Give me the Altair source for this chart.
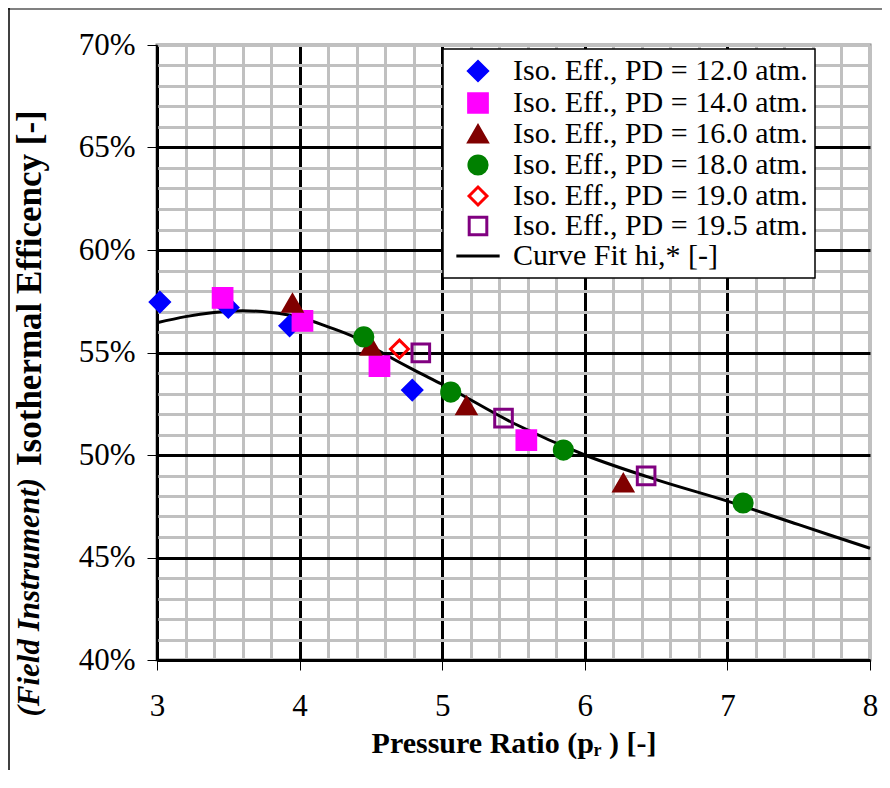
import altair as alt
import pandas as pd

# ---- data ----
series_names = [
    "Iso. Eff., PD = 12.0 atm.",
    "Iso. Eff., PD = 14.0 atm.",
    "Iso. Eff., PD = 16.0 atm.",
    "Iso. Eff., PD = 18.0 atm.",
    "Iso. Eff., PD = 19.0 atm.",
    "Iso. Eff., PD = 19.5 atm.",
    "Curve Fit hi,* [-]",
]

pr_12 = [3.02, 3.50, 3.93, 4.79]
eff_12 = [57.46, 57.2, 56.3, 53.17]
pr_14 = [3.46, 4.02, 4.56, 5.59]
eff_14 = [57.66, 56.54, 54.34, 50.73]
pr_16 = [3.95, 4.50, 5.17, 6.27]
eff_16 = [57.4, 55.3, 52.4, 48.63]
pr_18 = [4.45, 5.06, 5.85, 7.11]
eff_18 = [55.76, 53.07, 50.24, 47.66]
pr_19 = [4.70]
eff_19 = [55.17]
pr_195 = [4.85, 5.43, 6.43]
eff_195 = [54.98, 51.8, 48.98]

fit_pr = [3.0, 3.2, 3.4, 3.6, 3.8, 4.0, 4.2, 4.4, 4.6, 4.8, 5.0, 5.5, 6.0, 6.5, 7.0, 7.5, 8.0]
fit_eff = [56.45, 56.75, 56.95, 57.04, 56.95, 56.72, 56.25, 55.7, 54.9, 54.15, 53.45, 51.55, 50.0, 48.8, 47.75, 46.6, 45.45]

x_grid = [round(3 + 0.2 * i, 1) for i in range(26)]
y_grid = list(range(40, 71))

y_title_italic = ["(Field Instrument)"]
y_title_bold = ["Isothermal Efficency [-]"]

# ---- styles ----
stroke_colors = ["#0000FF", "#FF00FF", "#800000", "#008000", "#FF0000", "#800080", "#000000"]
fill_colors = ["#0000FF", "#FF00FF", "#800000", "#008000", "transparent", "transparent", "transparent"]
shapes = ["diamond", "square", "triangle-up", "circle", "diamond", "square", "M-2.5,0L2.5,0"]
sizes = [361, 300, 361, 330, 289, 289, 441]

rows = []
for name, xs, ys in zip(series_names[:6],
                        [pr_12, pr_14, pr_16, pr_18, pr_19, pr_195],
                        [eff_12, eff_14, eff_16, eff_18, eff_19, eff_195]):
    for a, b in zip(xs, ys):
        rows.append({"pr": a, "eff": b, "series": name})
points_df = pd.DataFrame(rows)
fit_df = pd.DataFrame({"pr": fit_pr, "eff": fit_eff, "series": series_names[6]})

FONT = "Liberation Serif"

x_axis = alt.Axis(
    values=x_grid,
    labelExpr="datum.value % 1 === 0 ? format(datum.value, 'd') : ''",
    title="Pressure Ratio (pᵣ ) [-]",
    titleFont=FONT, titleFontSize=30, titleFontWeight="bold", titleColor="black",
    titlePadding=7,
    labelFont=FONT, labelFontSize=31, labelColor="black", labelPadding=21,
    labelOverlap=False, labelFlush=False, labelBound=False,
    grid=True,
    gridColor={"condition": {"test": "datum.value % 1 === 0 && datum.value < 8", "value": "black"},
               "value": "#c0c0c0"},
    gridWidth=3, gridOpacity=1,
    tickColor={"condition": {"test": "datum.value % 1 === 0", "value": "black"}, "value": "transparent"},
    tickSize=10, tickWidth=1,
    domainColor="black", domainWidth=1.5,
)

y_axis = alt.Axis(
    values=y_grid,
    labelExpr="datum.value % 5 === 0 ? datum.value + '%' : ''",
    title=None,
    labelFont=FONT, labelFontSize=31, labelColor="black", labelPadding=12,
    labelOverlap=False, labelBound=False, labelFlush=False,
    grid=True,
    gridColor={"condition": {"test": "datum.value % 5 === 0 && datum.value < 70", "value": "black"},
               "value": "#c0c0c0"},
    gridWidth=3, gridOpacity=1,
    tickColor={"condition": {"test": "datum.value % 5 === 0", "value": "black"}, "value": "transparent"},
    tickSize=10, tickWidth=1,
    domainColor="black", domainWidth=1.5,
)

x_enc = alt.X("pr:Q", scale=alt.Scale(domain=[3, 8], nice=False, zero=False), axis=x_axis)
y_enc = alt.Y("eff:Q", scale=alt.Scale(domain=[40, 70], nice=False, zero=False), axis=y_axis)

legend_spec = alt.Legend(title=None, labelExpr="datum.label + '\u00a0\u00a0'")
stroke_enc = alt.Stroke("series:N", scale=alt.Scale(domain=series_names, range=stroke_colors),
                        legend=legend_spec)
fill_enc = alt.Fill("series:N", scale=alt.Scale(domain=series_names, range=fill_colors),
                    legend=legend_spec)
shape_enc = alt.Shape("series:N", scale=alt.Scale(domain=series_names, range=shapes),
                      legend=legend_spec)
size_enc = alt.Size("series:N", scale=alt.Scale(domain=series_names, range=sizes),
                    legend=legend_spec)

curve = alt.Chart(fit_df).mark_line(strokeWidth=3, interpolate="monotone").encode(
    x=x_enc, y=y_enc, stroke=stroke_enc, order=alt.Order("pr:Q")
)

pts = alt.Chart(points_df).mark_point(opacity=1, strokeWidth=3, fillOpacity=1).encode(
    x=x_enc, y=y_enc, stroke=stroke_enc, fill=fill_enc, shape=shape_enc, size=size_enc
)

one = pd.DataFrame({"k": [0]})
title_italic = alt.Chart(pd.DataFrame({"t": y_title_italic})).mark_text(
    angle=270, align="right", baseline="middle", font=FONT, fontSize=31,
    fontWeight="bold", fontStyle="italic", color="black"
).encode(x=alt.value(-127), y=alt.value(433), text="t:N")
title_bold = alt.Chart(pd.DataFrame({"t": y_title_bold})).mark_text(
    angle=270, align="left", baseline="middle", font=FONT, fontSize=35,
    fontWeight="bold", color="black"
).encode(x=alt.value(-127), y=alt.value(421), text="t:N")

frame_top = alt.Chart(one).mark_rule(color="#808080", strokeWidth=2).encode(
    x=alt.value(-149), x2=alt.value(760), y=alt.value(-36)
)
frame_left = alt.Chart(one).mark_rule(color="black", strokeWidth=1.5).encode(
    x=alt.value(-148), y=alt.value(-37), y2=alt.value(740)
)

chart = alt.layer(frame_top, frame_left, curve, pts, title_italic, title_bold).properties(
    width=713, height=615,
    padding={"left": 149, "top": 37, "right": 12, "bottom": 110},
    autosize=alt.AutoSizeParams(type="none"),
    background="white",
).configure_view(
    stroke="#808080", strokeWidth=3
).configure_legend(
    orient="none", legendX=286, legendY=4,
    padding=7, fillColor="white", strokeColor="black", strokeWidth=1.5,
    labelFont=FONT, labelFontSize=30, labelColor="black", labelLimit=500,
    labelOffset=20, symbolOffset=13, rowPadding=0, symbolStrokeWidth=3, symbolOpacity=1,
)

chart.save("out.html", embed_options={"renderer": "svg", "actions": False})
